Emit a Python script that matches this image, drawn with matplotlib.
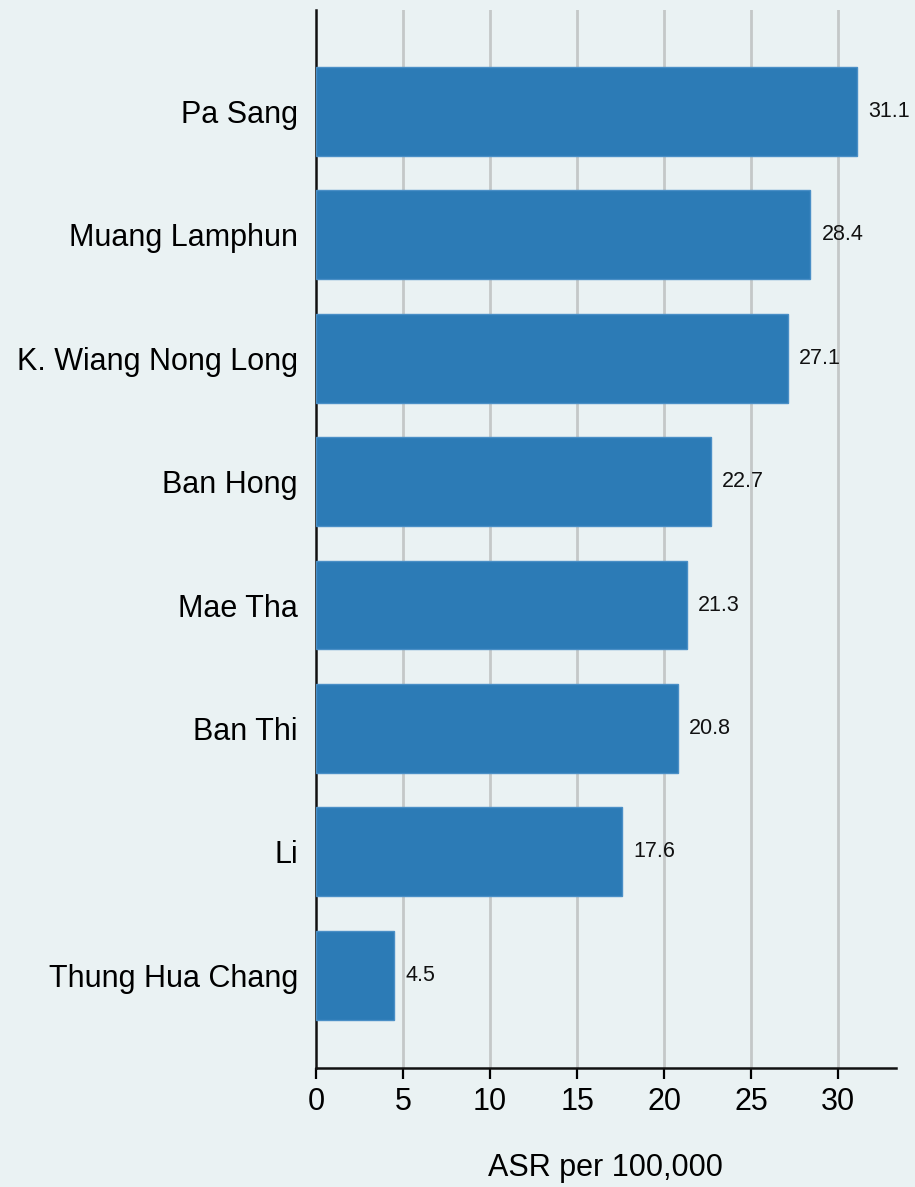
import matplotlib.pyplot as plt

districts = ['Pa Sang', 'Muang Lamphun', 'K. Wiang Nong Long', 'Ban Hong',
             'Mae Tha', 'Ban Thi', 'Li', 'Thung Hua Chang']
asr = [31.1, 28.4, 27.1, 22.7, 21.3, 20.8, 17.6, 4.5]
xticks = [0, 5, 10, 15, 20, 25, 30]

plt.rcParams['font.family'] = ['Liberation Sans', 'DejaVu Sans']

bg = '#EAF2F3'
bar_col = '#2C7BB6'

fig = plt.figure(figsize=(9.15, 11.87), dpi=100, facecolor=bg)
ax = fig.add_axes([0.3454, 0.1003, 0.979 - 0.3454, 0.9916 - 0.1003])
ax.set_facecolor(bg)

# top category first
pos = list(range(len(districts)))[::-1]
ax.barh(pos, asr, height=0.72, color=bar_col, edgecolor='#4A8FC6',
        linewidth=1, zorder=3)

for p, v in zip(pos, asr):
    ax.annotate(f'{v:.1f}', (v, p), xytext=(11, 0), textcoords='offset pixels',
                va='center', ha='left', fontsize=15.5, color='#111111')

ax.set_xlim(0, 33.3)
ax.set_ylim(-0.75, 7.82)
ax.set_xticks(xticks)
ax.set_yticks(pos)
ax.set_yticklabels(districts)
ax.tick_params(axis='y', length=0, labelsize=22, pad=13)
ax.tick_params(axis='x', length=8, width=1.6, labelsize=22, pad=6)

for x in xticks[1:]:
    ax.axvline(x, color='#C4C8C8', lw=2, zorder=1)

for s in ['top', 'right']:
    ax.spines[s].set_visible(False)
for s in ['left', 'bottom']:
    ax.spines[s].set_linewidth(1.8)
    ax.spines[s].set_color('#111111')

ax.set_xlabel('ASR per 100,000', fontsize=22, labelpad=26)

fig.savefig('out.png', dpi=100, facecolor=bg)
